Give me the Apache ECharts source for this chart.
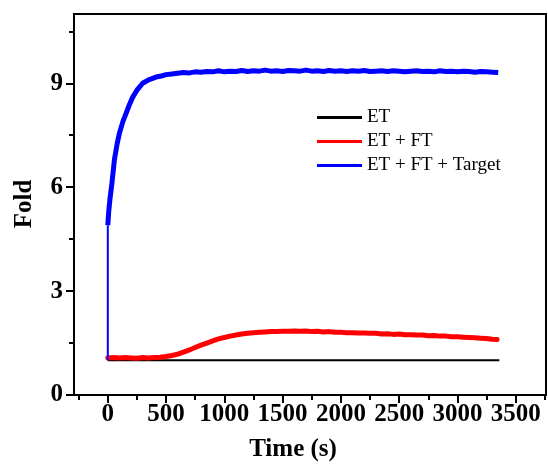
<!DOCTYPE html>
<html>
<head>
<meta charset="utf-8">
<script src="https://cdn.jsdelivr.net/npm/echarts@6/dist/echarts.min.js"></script>
<style>
  html, body { margin: 0; padding: 0; background: #fff; }
  #chart { width: 548px; height: 465px; }
</style>
</head>
<body>
<div id="chart"></div>
<script>
// Fold change over time for three probe mixtures
const seriesNames = ['ET', 'ET + FT', 'ET + FT + Target'];

// ET: flat baseline
const etTime = [0, 3360];
const etFold = [1.0, 1.0];

// ET + FT: slow rise then gentle decay
const etFtTime = [0, 50, 100, 150, 200, 250, 300, 350, 400, 450, 500, 550, 600, 650, 700, 750, 800, 850, 900, 950,
  1000, 1050, 1100, 1150, 1200, 1250, 1300, 1350, 1400, 1450, 1500, 1550, 1600, 1650, 1700, 1750, 1800, 1850, 1900, 1950,
  2000, 2050, 2100, 2150, 2200, 2250, 2300, 2350, 2400, 2450, 2500, 2550, 2600, 2650, 2700, 2750, 2800, 2850, 2900, 2950,
  3000, 3050, 3100, 3150, 3200, 3250, 3300, 3340];
const etFtFold = [1.07, 1.08, 1.07, 1.08, 1.07, 1.06, 1.08, 1.07, 1.08, 1.09, 1.11, 1.14, 1.18, 1.24, 1.30, 1.37, 1.44, 1.50, 1.56, 1.62,
  1.66, 1.70, 1.73, 1.76, 1.78, 1.80, 1.81, 1.82, 1.83, 1.83, 1.84, 1.84, 1.85, 1.84, 1.85, 1.83, 1.84, 1.82, 1.83, 1.81,
  1.81, 1.80, 1.80, 1.79, 1.79, 1.78, 1.78, 1.76, 1.77, 1.75, 1.76, 1.74, 1.74, 1.73, 1.73, 1.71, 1.72, 1.70, 1.70, 1.68,
  1.68, 1.67, 1.66, 1.65, 1.64, 1.63, 1.61, 1.60];

// ET + FT + Target: jump at injection, fast rise, plateau
const jumpTime = [0, 0];
const jumpFold = [1.0, 4.9];
const etFtTgTime = [0, 8, 20, 35, 57, 80, 100, 130, 157, 185, 214, 250, 299, 350, 414, 460, 500, 550, 600, 650, 700,
  750, 800, 850, 900, 950, 1000, 1050, 1100, 1150, 1200, 1250, 1300, 1350, 1400, 1450, 1500, 1550, 1600, 1650, 1700,
  1750, 1800, 1850, 1900, 1950, 2000, 2050, 2100, 2150, 2200, 2250, 2300, 2350, 2400, 2450, 2500, 2550, 2600, 2650,
  2700, 2750, 2800, 2850, 2900, 2950, 3000, 3050, 3100, 3150, 3200, 3250, 3300, 3350];
const etFtTgFold = [4.9, 5.3, 5.7, 6.1, 6.8, 7.25, 7.56, 7.9, 8.13, 8.38, 8.6, 8.8, 9.0, 9.1, 9.18, 9.21, 9.25, 9.27, 9.29, 9.31, 9.3,
  9.33, 9.32, 9.34, 9.33, 9.36, 9.33, 9.35, 9.34, 9.37, 9.34, 9.36, 9.35, 9.38, 9.35, 9.36, 9.34, 9.37, 9.36, 9.35, 9.38,
  9.35, 9.36, 9.34, 9.37, 9.35, 9.36, 9.34, 9.36, 9.35, 9.37, 9.34, 9.35, 9.36, 9.34, 9.36, 9.35, 9.33, 9.35, 9.36,
  9.34, 9.35, 9.33, 9.36, 9.34, 9.35, 9.33, 9.35, 9.34, 9.32, 9.34, 9.33, 9.32, 9.31];

// Axis ticks and labels
const xMajor = [0, 500, 1000, 1500, 2000, 2500, 3000, 3500];
const xMinor = [-250, 250, 750, 1250, 1750, 2250, 2750, 3250, 3750];
const yMajor = [0, 3, 6, 9];
const yMinor = [1.5, 4.5, 7.5, 10.5];

const xRange = [-290, 3760];
const yRange = [0, 11];

const FONT = "'Liberation Serif', 'Times New Roman', serif";
const colors = ['#000000', '#ff0000', '#0000ff'];

const pairs = (t, v) => t.map((x, i) => [x, v[i]]);

const axisLine = { show: true, onZero: false, lineStyle: { color: '#000', width: 2 } };
const labelStyle = {
  color: '#000', fontFamily: FONT, fontWeight: 'bold', fontSize: 25,
  formatter: (v) => String(v)
};

const chart = echarts.init(document.getElementById('chart'), null, { renderer: 'canvas' });
chart.setOption({
  animation: false,
  backgroundColor: '#fff',
  grid: {
    left: 74, right: 2, top: 14, bottom: 70,
    show: true, borderColor: '#000', borderWidth: 2, backgroundColor: 'transparent'
  },
  legend: {
    data: seriesNames,
    orient: 'vertical',
    left: 312, top: 103,
    icon: 'rect',
    itemWidth: 45, itemHeight: 3,
    itemGap: 5,
    textStyle: { color: '#000', fontFamily: FONT, fontSize: 19, lineHeight: 19 }
  },
  xAxis: [
    {
      type: 'value', min: xRange[0], max: xRange[1], position: 'bottom',
      axisLine: axisLine,
      axisTick: { show: true, inside: false, length: 8, customValues: xMajor, lineStyle: { color: '#000', width: 2 } },
      axisLabel: Object.assign({ customValues: xMajor, margin: 7 }, labelStyle),
      splitLine: { show: false }
    },
    {
      type: 'value', min: xRange[0], max: xRange[1], position: 'bottom', offset: 0,
      axisLine: { show: false, onZero: false },
      axisTick: { show: true, inside: false, length: 5, customValues: xMinor, lineStyle: { color: '#000', width: 2 } },
      axisLabel: { show: false },
      splitLine: { show: false }
    }
  ],
  yAxis: [
    {
      type: 'value', min: yRange[0], max: yRange[1], position: 'left',
      axisLine: axisLine,
      axisTick: { show: true, inside: false, length: 8, customValues: yMajor, lineStyle: { color: '#000', width: 2 } },
      axisLabel: Object.assign({ customValues: yMajor, margin: 11 }, labelStyle),
      splitLine: { show: false }
    },
    {
      type: 'value', min: yRange[0], max: yRange[1], position: 'left', offset: 0,
      axisLine: { show: false, onZero: false },
      axisTick: { show: true, inside: false, length: 5, customValues: yMinor, lineStyle: { color: '#000', width: 2 } },
      axisLabel: { show: false },
      splitLine: { show: false }
    }
  ],
  graphic: [
    {
      type: 'text', x: 293, y: 450,
      style: { text: 'Time (s)', fill: '#000', font: "bold 25px 'Liberation Serif', serif", align: 'center', verticalAlign: 'middle' }
    },
    {
      type: 'text', x: 25, y: 204, rotation: Math.PI / 2,
      style: { text: 'Fold', fill: '#000', font: "bold 25px 'Liberation Serif', serif", align: 'center', verticalAlign: 'middle' }
    }
  ],
  series: [
    {
      name: seriesNames[0], type: 'line', data: pairs(etTime, etFold),
      showSymbol: false, color: colors[0], lineStyle: { width: 2, color: colors[0] }, z: 2
    },
    {
      name: seriesNames[1], type: 'line', data: pairs(etFtTime, etFtFold),
      showSymbol: false, color: colors[1], lineStyle: { width: 5, color: colors[1], cap: 'round', join: 'round' }, z: 3
    },
    {
      name: seriesNames[2], type: 'line', data: pairs(etFtTgTime, etFtTgFold),
      showSymbol: false, color: colors[2], lineStyle: { width: 5, color: colors[2], cap: 'butt', join: 'round' }, z: 4
    },
    {
      // thin step at the moment of target injection
      name: seriesNames[2], type: 'line', data: pairs(jumpTime, jumpFold),
      showSymbol: false, color: colors[2], lineStyle: { width: 2, color: colors[2] }, z: 4
    }
  ]
});
</script>
</body>
</html>
